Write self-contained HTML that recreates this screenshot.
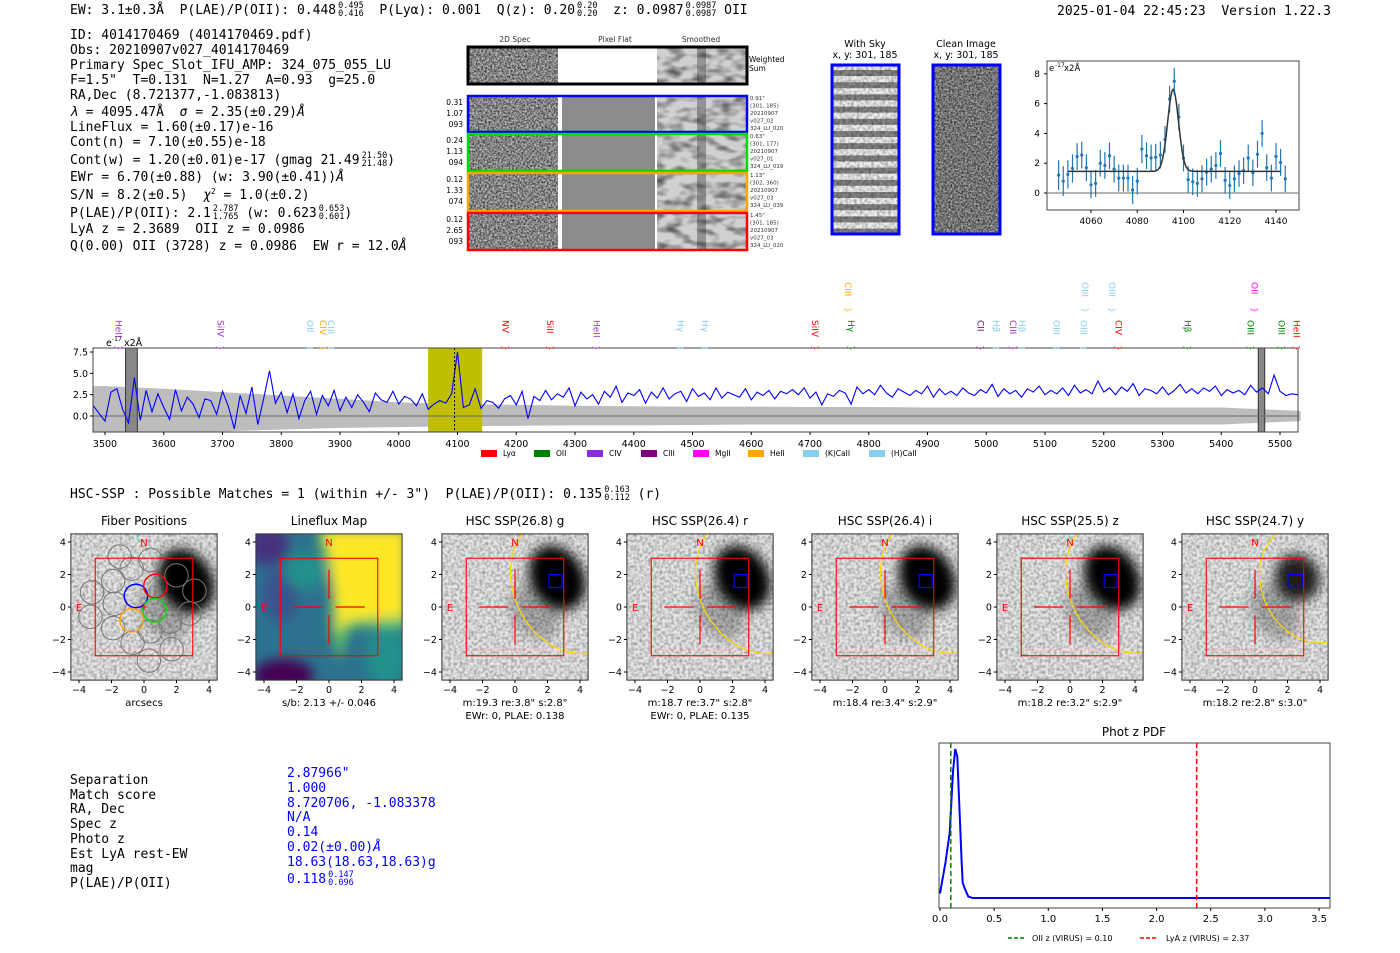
<!DOCTYPE html>
<html><head><meta charset="utf-8">
<style>
html,body{margin:0;padding:0;background:#fff;}
#root{position:relative;width:1400px;height:953px;overflow:hidden;background:#fff;}
.m{position:absolute;font-family:"DejaVu Sans Mono","Liberation Mono",monospace;font-size:13px;white-space:pre;color:#000;line-height:15px;}
.fr{display:inline-block;font-size:8.5px;line-height:8px;vertical-align:-2px;margin-left:2px;}
.fr span{display:block;}
.b{color:#0000ff;}
svg{position:absolute;left:0;top:0;}
</style></head>
<body>
<div id="root">
<svg id="sv" width="1400" height="953" viewBox="0 0 1400 953">
<defs>
<filter id="noise" x="0" y="0" width="100%" height="100%"><feTurbulence type="fractalNoise" baseFrequency="0.55" numOctaves="2" seed="3"/><feColorMatrix type="matrix" values="0 0 0 0 0  0 0 0 0 0  0 0 0 0 0  0 0 0 -1.3 1.0"/></filter>
<filter id="noiseL" x="0" y="0" width="100%" height="100%"><feTurbulence type="fractalNoise" baseFrequency="0.35" numOctaves="1" seed="7"/><feColorMatrix type="matrix" values="0 0 0 0 0  0 0 0 0 0  0 0 0 0 0  0 0 0 -0.7 0.45"/></filter>
<filter id="smooth" x="0" y="0" width="100%" height="100%"><feTurbulence type="fractalNoise" baseFrequency="0.06 0.12" numOctaves="2" seed="5"/><feColorMatrix type="matrix" values="0 0 0 0 0  0 0 0 0 0  0 0 0 0 0  0 0 0 -1.3 0.75"/></filter>
<filter id="blur6"><feGaussianBlur stdDeviation="6"/></filter>
<filter id="blur4"><feGaussianBlur stdDeviation="4"/></filter>
</defs>
</svg>

<div class="m" style="left:70px;top:2px">EW: 3.1±0.3Å  P(LAE)/P(OII): 0.448<span class="fr"><span>0.495</span><span>0.416</span></span>  P(Lyα): 0.001  Q(z): 0.20<span class="fr"><span>0.20</span><span>0.20</span></span>  z: 0.0987<span class="fr"><span>0.0987</span><span>0.0987</span></span> OII</div>
<div class="m" style="left:1057px;top:4px">2025-01-04 22:45:23  Version 1.22.3</div>

<div class="m" style="left:70px;top:28px">ID: 4014170469 (4014170469.pdf)</div>
<div class="m" style="left:70px;top:43px">Obs: 20210907v027_4014170469</div>
<div class="m" style="left:70px;top:58px">Primary Spec_Slot_IFU_AMP: 324_075_055_LU</div>
<div class="m" style="left:70px;top:73px">F=1.5"  T=0.131  N=1.27  A=0.93  g=25.0</div>
<div class="m" style="left:70px;top:88px">RA,Dec (8.721377,-1.083813)</div>
<div class="m" style="left:70px;top:105px"><i>λ</i> = 4095.47Å  <i>σ</i> = 2.35(±0.29)<i>Å</i></div>
<div class="m" style="left:70px;top:120px">LineFlux = 1.60(±0.17)e-16</div>
<div class="m" style="left:70px;top:135px">Cont(n) = 7.10(±0.55)e-18</div>
<div class="m" style="left:70px;top:152px;height:16px">Cont(w) = 1.20(±0.01)e-17 (gmag 21.49<span class="fr"><span>21.50</span><span>21.48</span></span>)</div>
<div class="m" style="left:70px;top:170px">EWr = 6.70(±0.88) (w: 3.90(±0.41))<i>Å</i></div>
<div class="m" style="left:70px;top:188px">S/N = 8.2(±0.5)  <i>χ</i><span style="font-size:8px;vertical-align:5px;line-height:8px">2</span> = 1.0(±0.2)</div>
<div class="m" style="left:70px;top:205px">P(LAE)/P(OII): 2.1<span class="fr"><span>2.787</span><span>1.765</span></span> (w: 0.623<span class="fr"><span>0.653</span><span>0.601</span></span>)</div>
<div class="m" style="left:70px;top:222px">LyA z = 2.3689  OII z = 0.0986</div>
<div class="m" style="left:70px;top:239px">Q(0.00) OII (3728) z = 0.0986  EW r = 12.0<i>Å</i></div>

<div class="m" style="left:70px;top:486px">HSC-SSP : Possible Matches = 1 (within +/- 3")  P(LAE)/P(OII): 0.135<span class="fr"><span>0.163</span><span>0.112</span></span> (r)</div>

<div class="m" style="left:70px;top:774px;line-height:14.7px">Separation
Match score
RA, Dec
Spec z
Photo z
Est LyA rest-EW
mag
P(LAE)/P(OII)</div>
<div class="m b" style="left:287px;top:767px;line-height:14.8px">2.87966"
1.000
8.720706, -1.083378
N/A
0.14
0.02(±0.00)<i>Å</i>
18.63(18.63,18.63)g
0.118<span class="fr"><span>0.147</span><span>0.096</span></span></div>
</div>

<script>
// ---------------- data ----------------
const specWaveStart = 3480;
const specWaveStep = 10;
const specFlux = [1.2,0.3,-0.6,2.8,3.2,0.8,-0.8,4.5,-0.5,3.0,
0.5,2.6,1.0,-0.4,3.1,0.6,2.2,1.4,-0.2,2.0,
1.8,0.2,2.9,1.1,-1.5,2.4,0.3,3.4,-1.0,2.0,
5.3,1.5,2.8,0.4,2.6,-0.3,1.8,2.9,0.2,2.4,
1.2,3.0,0.6,2.2,1.0,2.5,1.6,0.5,2.7,1.9,
1.6,2.9,1.4,2.3,2.0,1.2,2.6,0.8,1.4,1.8,
1.5,2.6,7.5,1.0,1.3,3.2,0.9,1.8,1.6,0.9,
2.0,2.4,1.3,2.9,-0.3,2.3,1.8,3.0,1.9,2.6,
2.2,3.3,1.2,2.8,2.0,2.5,1.4,2.9,2.2,3.5,
1.6,2.7,2.4,3.1,1.5,2.8,2.1,3.3,2.0,2.6,
2.9,1.7,3.2,2.3,2.7,1.9,3.3,2.1,2.8,2.5,
2.2,3.2,1.9,2.8,2.4,3.0,2.0,2.9,2.6,3.1,
2.5,3.3,2.1,2.8,1.3,2.6,2.3,3.0,2.7,1.4,
3.4,2.6,3.1,2.5,3.6,2.7,2.2,3.2,2.8,2.4,
3.0,2.6,3.5,2.2,3.2,2.5,2.9,2.4,3.3,2.7,
2.4,3.1,2.7,3.7,2.3,3.2,2.6,3.0,2.2,3.2,
2.8,3.5,2.5,3.0,2.6,3.3,2.4,3.6,2.7,3.1,
2.6,4.1,2.8,3.3,2.5,3.4,2.9,3.8,2.4,3.2,
3.0,2.6,3.4,2.5,3.0,3.7,2.7,3.2,2.6,3.3,
2.9,3.5,2.4,3.1,2.7,3.0,2.5,3.6,2.8,3.3,
2.6,4.8,2.9,2.4,2.6,2.5];
const errWave = [3500,3600,3700,3800,3900,4000,4100,4200,4300,4400,4500,4600,4700,4800,4900,5000,5100,5200,5300,5400,5535];
const errHi = [3.5,3.2,2.8,2.4,2.0,1.6,1.4,1.3,1.2,1.15,1.1,1.1,1.05,1.05,1.0,1.0,1.0,1.0,1.0,1.0,0.6];
const errLo = [-1.9,-1.9,-1.8,-1.6,-1.4,-1.3,-1.2,-1.15,-1.1,-1.1,-1.05,-1.0,-1.0,-1.0,-1.0,-1.0,-1.0,-1.0,-1.0,-1.0,-0.6];
const specTicks = [3500,3600,3700,3800,3900,4000,4100,4200,4300,4400,4500,4600,4700,4800,4900,5000,5100,5200,5300,5400,5500];
const specYTicks = [0.0,2.5,5.0,7.5];
const lineWave = [3522,3696,3848,3870,3884,4181,4257,4336,4479,4520,4708,4764,4769,4989,5016,5045,5060,5119,5165,5167,5213,5224,5342,5449,5456,5502,5527];
const lineName = ["HeII","SiIV","OII","CIV","CIII","NV","SiII","HeII","Hγ","Hγ","SiIV","CIII","Hγ","CII","Hβ","CIII","Hβ","OIII","OIII","OIII","OIII","CIV","Hβ","OIII","OII","OIII","HeII"];
const lineColor = ["#a030d0","#a030d0","#87ceeb","#ffa500","#87ceeb","#ff0000","#ff0000","#a030d0","#87ceeb","#87ceeb","#ff0000","#ffa500","#008000","#800080","#87ceeb","#a030d0","#87ceeb","#87ceeb","#87ceeb","#87ceeb","#87ceeb","#ff0000","#008000","#008000","#ff00ff","#008000","#ff0000"];
const lineUpper = [0,0,0,0,0,0,0,0,0,0,0,1,0,0,0,0,0,0,0,1,1,0,0,0,1,0,0];
const legendNames = ["Lyα","OII","CIV","CIII","MgII","HeII","(K)CaII","(H)CaII"];
const legendColors = ["#ff0000","#008000","#8a2be2","#800080","#ff00ff","#ffa500","#87ceeb","#87ceeb"];

const zoomWave = [4046,4048,4050,4052,4054,4056,4058,4060,4062,4064,4066,4068,4070,4072,4074,4076,4078,4080,4082,4084,4086,4088,4090,4092,4094,4096,4098,4100,4102,4104,4106,4108,4110,4112,4114,4116,4118,4120,4122,4124,4126,4128,4130,4132,4134,4136,4138,4140,4142,4144];
const zoomFlux = [1.2,0.8,1.25,1.65,2.45,2.55,1.7,0.55,0.65,2.0,1.85,2.5,1.6,1.0,1.0,1.0,0.2,0.8,2.95,2.5,2.35,2.4,2.55,3.6,6.3,7.5,5.1,2.35,0.9,0.75,0.65,0.95,1.4,1.6,1.85,2.65,0.85,0.5,0.95,1.3,1.5,2.35,1.35,2.6,4.0,1.7,1.0,2.45,2.05,0.95];
const zoomErr = [1.0,1.0,0.95,0.95,0.9,0.9,0.9,0.9,0.9,0.9,0.9,0.9,0.9,0.9,0.9,0.9,0.95,0.9,0.95,0.9,0.9,0.9,0.9,0.9,0.9,0.9,0.9,0.9,0.9,0.9,0.9,0.9,0.9,0.9,0.9,0.9,0.9,0.9,0.9,0.9,0.9,0.9,0.9,0.9,0.9,0.9,0.9,0.9,0.9,0.9];
const fitBase = 1.45, fitAmp = 5.5, fitCenter = 4095.5, fitSigma = 2.35;
const zoomXTicks = [4060,4080,4100,4120,4140];
const zoomYTicks = [0,2,4,6,8];

const pdfZ = [0,0.05,0.09,0.12,0.14,0.16,0.18,0.2,0.21,0.23,0.26,0.3,3.6];
const pdfP = [0.05,0.25,0.45,0.85,1.0,0.95,0.6,0.25,0.12,0.08,0.03,0.02,0.02];
const pdfTicks = [0.0,0.5,1.0,1.5,2.0,2.5,3.0,3.5];
const oiiZ = 0.10, lyaZ = 2.37;

const fiberX = [-1.5,-1.9,-3.2,-1.8,-3.3,-1.9,-0.7,0.4,1.6,1.7,0.3,-0.76,0.4,2.0,3.1,2.8,-0.5,0.7,0.65,-0.76];
const fiberY = [3.1,1.6,0.9,0.2,-0.6,-1.3,-2.2,-1.5,-0.9,-2.6,-3.3,2.36,2.9,1.95,1.0,-0.4,0.68,1.29,-0.2,-0.82];
const fiberColor = ["#777","#777","#777","#777","#777","#777","#777","#777","#777","#777","#777","#777","#777","#777","#777","#777","#0000ff","#ff0000","#00dd00","#ffa500"];

const panelTitles = ["Fiber Positions","Lineflux Map","HSC SSP(26.8) g","HSC SSP(26.4) r","HSC SSP(26.4) i","HSC SSP(25.5) z","HSC SSP(24.7) y"];
const panelFoot1 = ["arcsecs","s/b: 2.13 +/- 0.046","m:19.3  re:3.8\"  s:2.8\"","m:18.7  re:3.7\"  s:2.8\"","m:18.4  re:3.4\"  s:2.9\"","m:18.2  re:3.2\"  s:2.9\"","m:18.2  re:2.8\"  s:3.0\""];
const panelFoot2 = ["","","EWr: 0, PLAE: 0.138","EWr: 0, PLAE: 0.135","","",""];
const panelCx = [144,329,515,700,885,1070,1255];
const imgTicks = [-4,-2,0,2,4];

// ---------------- helpers ----------------
const NS = "http://www.w3.org/2000/svg";
const sv = document.getElementById("sv");
function E(tag, at, parent){ const e=document.createElementNS(NS,tag); for(const k in at) e.setAttribute(k,at[k]); (parent||sv).appendChild(e); return e; }
function T(x,y,s,at,parent){ const e=E("text",Object.assign({x:x,y:y,"font-family":"DejaVu Sans, Liberation Sans, sans-serif","font-size":10},at||{}),parent); e.textContent=s; return e; }

// ---------------- 2D spec cutouts ----------------
(function(){
  const g=E("g",{});
  
  
  T(515,42,"2D Spec",{"font-size":7.5,"text-anchor":"middle",fill:"#333"},g);
  T(615,42,"Pixel Flat",{"font-size":7.5,"text-anchor":"middle",fill:"#333"},g);
  T(701,42,"Smoothed",{"font-size":7.5,"text-anchor":"middle",fill:"#333"},g);
  const rows=[[46,85,"#000"],[95,133,"#0000ff"],[133,172,"#00dd00"],[172,212,"#ffa500"],[212,251,"#ff0000"]];
  const left=[["",""],["0.31","1.07","093"],["0.24","1.13","094"],["0.12","1.33","074"],["0.12","2.65","093"]];
  const right=[[],["0.91\"","(301, 185)","20210907","v027_02","324_LU_020"],["0.63\"","(301, 177)","20210907","v027_01","324_LU_019"],["1.13\"","(302, 360)","20210907","v027_03","324_LU_039"],["1.45\"","(301, 185)","20210907","v027_03","324_LU_020"]];
  rows.forEach((r,i)=>{
    const y=r[0],h=r[1]-r[0];
    E("rect",{x:469,y:y,width:89,height:h,fill:"#c8c8c8"},g);
    E("rect",{x:469,y:y,width:89,height:h,filter:"url(#noise)"},g);
    E("rect",{x:562,y:y,width:93,height:h,fill:i==0?"#fff":"#8c8c8c"},g);
    E("rect",{x:657,y:y,width:90,height:h,fill:"#d0d0d0"},g);
    E("rect",{x:657,y:y,width:90,height:h,filter:"url(#smooth)"},g);
    E("rect",{x:697,y:y,width:9,height:h,fill:"#222",opacity:0.35},g);
    E("rect",{x:468,y:y+1,width:279,height:h-2,fill:"none",stroke:r[2],"stroke-width":i==0?3:2.5},g);
    if(i>0) left[i].forEach((s,k)=>T(463,y+10+k*11,s,{"font-size":7.5,"text-anchor":"end"},g));
    right[i].forEach((s,k)=>T(750,y+5+k*7.5,s,{"font-size":5.5,fill:"#333"},g));
  });
  T(749,62,"Weighted",{"font-size":7.5},g); T(749,71,"Sum",{"font-size":7.5},g);
})();

// ---------------- sky images ----------------
(function(){
  const g=E("g",{});
  
  
  T(865,47,"With Sky",{"font-size":9.5,"text-anchor":"middle"},g);
  T(865,58,"x, y: 301, 185",{"font-size":9.5,"text-anchor":"middle"},g);
  T(966,47,"Clean Image",{"font-size":9.5,"text-anchor":"middle"},g);
  T(966,58,"x, y: 301, 185",{"font-size":9.5,"text-anchor":"middle"},g);
  E("rect",{x:832,y:65,width:67,height:169,fill:"#eee"},g);
  for(let k=0;k<14;k++){ E("rect",{x:832,y:70+k*12.2,width:67,height:6,fill:"#555",opacity:0.7},g); }
  E("rect",{x:832,y:65,width:67,height:169,filter:"url(#noiseL)"},g);
  E("rect",{x:832,y:65,width:67,height:169,fill:"none",stroke:"#0000ff","stroke-width":3},g);
  E("rect",{x:933,y:65,width:67,height:169,fill:"#b0b0b0"},g);
  E("rect",{x:933,y:65,width:67,height:169,filter:"url(#noise)"},g);
  E("rect",{x:933,y:65,width:67,height:169,fill:"none",stroke:"#0000ff","stroke-width":3},g);
})();

// ---------------- zoom spectrum ----------------
(function(){
  const g=E("g",{});
  
  
  const X=w=>1091+(w-4060)*2.3125, Y=v=>193-v*14.9;
  E("rect",{x:1047,y:61,width:252,height:149,fill:"#fff",stroke:"#444","stroke-width":1},g);
  E("line",{x1:1047,x2:1299,y1:Y(0),y2:Y(0),stroke:"#888","stroke-width":1.2},g);
  zoomXTicks.forEach(t=>{E("line",{x1:X(t),x2:X(t),y1:210,y2:213,stroke:"#000"},g);T(X(t),224,String(t),{"font-size":9,"text-anchor":"middle"},g);});
  zoomYTicks.forEach(t=>{E("line",{x1:1044,x2:1047,y1:Y(t),y2:Y(t),stroke:"#000"},g);T(1040,Y(t)+3,String(t),{"font-size":9,"text-anchor":"end"},g);});
  zoomWave.forEach((w,i)=>{
    const eb=E("line",{x1:X(w),x2:X(w),y1:Y(zoomFlux[i]+zoomErr[i]),y2:Y(zoomFlux[i]-zoomErr[i]),stroke:"#1f77b4","stroke-width":1.2},g);
    
    const p=E("circle",{cx:X(w),cy:Y(zoomFlux[i]),r:1.6,fill:"#1f77b4"},g);
    
  });
  let d="";
  for(let w=4050;w<=4142;w+=0.5){ const v=fitBase+fitAmp*Math.exp(-0.5*Math.pow((w-fitCenter)/fitSigma,2)); d+=(d?"L":"M")+X(w).toFixed(1)+","+Y(v).toFixed(1); }
  const fp=E("path",{d:d,fill:"none",stroke:"#333","stroke-width":1.5},g);
  
  T(1049,71,"e",{"font-size":8.5},g);
  T(1055,67,"-17",{"font-size":6},g); T(1064,71,"x2Å",{"font-size":8.5},g);
})();

// ---------------- full spectrum ----------------
(function(){
  const g=E("g",{});
  
  
  const X=w=>105+(w-3500)*0.5875, Y=v=>416-v*8.53;
  E("rect",{x:93,y:348,width:1205,height:84,fill:"#fff"},g);
  let d="M"+X(3480)+","+Y(errHi[0]);
  errWave.forEach((w,i)=>d+="L"+X(w).toFixed(1)+","+Y(errHi[i]).toFixed(1));
  for(let i=errWave.length-1;i>=0;i--) d+="L"+X(errWave[i]).toFixed(1)+","+Y(errLo[i]).toFixed(1);
  d+="L"+X(3480)+","+Y(errLo[0])+"Z";
  const band=E("path",{d:d,fill:"#bdbdbd"},g);
  
  const yb=E("rect",{x:X(4050),y:348,width:X(4142)-X(4050),height:84,fill:"#bfbf00"},g);
  
  E("rect",{x:X(3535),y:348,width:X(3555)-X(3535),height:84,fill:"#888",stroke:"#333"},g);
  E("rect",{x:X(5463),y:348,width:X(5474)-X(5463),height:84,fill:"#888",stroke:"#333"},g);
  E("line",{x1:93,x2:1298,y1:Y(0),y2:Y(0),stroke:"#777","stroke-width":1.2},g);
  let p="";
  specFlux.forEach((v,i)=>{const w=specWaveStart+i*specWaveStep; p+=(p?"L":"M")+X(w).toFixed(1)+","+Math.min(432,Math.max(348,Y(v))).toFixed(1);});
  const fl=E("path",{d:p,fill:"none",stroke:"#0000ff","stroke-width":1.1},g);
  
  E("line",{x1:X(4095),x2:X(4095),y1:348,y2:432,stroke:"#000","stroke-dasharray":"2,2","stroke-width":1},g);
  E("rect",{x:93,y:348,width:1205,height:84,fill:"none",stroke:"#444","stroke-width":1},g);
  specTicks.forEach(t=>{E("line",{x1:X(t),x2:X(t),y1:432,y2:435,stroke:"#000"},g);T(X(t),447,String(t),{"font-size":9.5,"text-anchor":"middle"},g);});
  specYTicks.forEach(t=>{E("line",{x1:90,x2:93,y1:Y(t),y2:Y(t),stroke:"#000"},g);T(88,Y(t)+3.5,t.toFixed(1),{"font-size":9.5,"text-anchor":"end"},g);});
  T(106,346,"e",{"font-size":9.5,fill:"#000"},g); T(112,341,"-17",{"font-size":6},g); T(124,346,"x2Å",{"font-size":9.5},g);
  lineWave.forEach((w,i)=>{
    const x=X(w), y0=lineUpper[i]?282:320;
    const t=T(x,y0,lineName[i],{"font-size":9,fill:lineColor[i],transform:"rotate(90 "+x+" "+y0+")","dominant-baseline":"middle"},g);
    
    T(x,y0+28,"{",{"font-size":8,fill:lineColor[i],transform:"rotate(-90 "+x+" "+(y0+28)+")","text-anchor":"middle","dominant-baseline":"middle"},g);
  });
  const lx=[481,534,587,641,693,748,803,869];
  legendNames.forEach((n,i)=>{
    const r=E("rect",{x:lx[i],y:450,width:16,height:7,fill:legendColors[i]},g);
    
    T(lx[i]+22,456,n,{"font-size":7.5},g);
  });
})();

// ---------------- image panels ----------------
panelCx.forEach((cx,pi)=>{
  const g=E("g",{});
  
  
  const S=16.25, cy=607, X=v=>cx+v*S, Y=v=>cy-v*S;
  const x0=X(-4.5), y0=Y(4.5), W=9*S;
  const cp=E("clipPath",{id:"cp"+pi},g); E("rect",{x:x0,y:y0,width:W,height:W},cp);
  const ig=E("g",{"clip-path":"url(#cp"+pi+")"},g);
  if(pi==1){
    E("rect",{x:x0,y:y0,width:W,height:W,fill:"#2c728e"},ig);
    const bg=E("g",{filter:"url(#blur6)"},ig);
    E("ellipse",{cx:X(-3.8),cy:Y(3.8),rx:22,ry:20,fill:"#46327e"},bg);
    E("ellipse",{cx:X(-2.8),cy:Y(-4.2),rx:30,ry:16,fill:"#440154"},bg);
    E("ellipse",{cx:X(-3),cy:Y(0.8),rx:18,ry:28,fill:"#3b528b"},bg);
    E("ellipse",{cx:X(-1.5),cy:Y(2.2),rx:20,ry:18,fill:"#21918c"},bg);
    E("ellipse",{cx:X(3.5),cy:Y(-3),rx:20,ry:30,fill:"#21918c"},bg);
    E("polygon",{points:[[-0.8,4.8],[4.8,4.8],[4.8,-1.3],[2.5,-1.2],[1.2,-1.3],[0.8,-2.8],[0.6,-3.4],[0.1,-1.2],[0.2,0.5],[-0.1,2.5]].map(p=>X(p[0])+","+Y(p[1])).join(" "),fill:"#5ec962"},bg);
    E("polygon",{points:[[-0.4,4.8],[4.8,4.8],[4.8,-0.6],[2.5,-0.7],[1.2,-0.8],[0.6,-1.6],[0.35,0.3],[0.1,2.6]].map(p=>X(p[0])+","+Y(p[1])).join(" "),fill:"#fde725"},bg);
  } else {
    E("rect",{x:x0,y:y0,width:W,height:W,fill:"#e6e6e6"},ig);
    E("rect",{x:x0,y:y0,width:W,height:W,filter:"url(#noiseL)"},ig);
    const bg=E("g",{filter:"url(#blur6)"},ig);
    const dark = pi==6 ? 0.85 : 1;
    const bcx = 2.6, bcy = pi==0?1.6:1.8;
    E("ellipse",{cx:X(1.2),cy:Y(-0.3),rx:22,ry:30,fill:"#000",opacity:0.25,transform:"rotate(-35 "+X(1.2)+" "+Y(-0.3)+")"},bg);
    E("ellipse",{cx:X(bcx),cy:Y(bcy),rx:pi==6?22:26,ry:pi==6?24:34,fill:"#000",opacity:dark,transform:"rotate(-30 "+X(bcx)+" "+Y(bcy)+")"},bg);
    if(pi>=2){
      const ecx=X(3.4),ecy=Y(1.4);
      const sc = pi==6?0.85:1;
      E("ellipse",{cx:ecx,cy:ecy,rx:3.5*S*sc,ry:4.4*S*sc,fill:"none",stroke:"#ffd700","stroke-width":1.2,transform:"rotate(-25 "+ecx+" "+ecy+")"},ig);
    }
    if(pi==0){
      fiberX.forEach((fx,i)=>{
        const c=E("circle",{cx:X(fx),cy:Y(fiberY[i]),r:0.72*S,fill:"none",stroke:fiberColor[i],"stroke-width":fiberColor[i]=="#777"?1:1.4},ig);
        
      });
    }
  }
  E("rect",{x:X(-3),y:Y(3),width:6*S,height:6*S,fill:"none",stroke:"#ff0000","stroke-width":1.1},g);
  if(pi>=1){
    E("line",{x1:X(-2.2),x2:X(-0.4),y1:cy,y2:cy,stroke:"#ff0000","stroke-width":1.2},g);
    E("line",{x1:X(0.4),x2:X(2.2),y1:cy,y2:cy,stroke:"#ff0000","stroke-width":1.2},g);
    E("line",{x1:cx,x2:cx,y1:Y(2.3),y2:Y(0.5),stroke:"#ff0000","stroke-width":1.2},g);
    E("line",{x1:cx,x2:cx,y1:Y(-0.5),y2:Y(-2.3),stroke:"#ff0000","stroke-width":1.2},g);
  } else {
    E("line",{x1:X(-0.2),x2:X(0.2),y1:cy,y2:cy,stroke:"#ff0000"},g);
    E("line",{x1:cx,x2:cx,y1:Y(0.2),y2:Y(-0.2),stroke:"#ff0000"},g);
  }
  if(pi>=2){ E("rect",{x:X(2.1),y:Y(2),width:0.8*S,height:0.8*S,fill:"none",stroke:"#0000ff","stroke-width":1.2},g); }
  T(cx,Y(4)+4,"N",{"font-size":10,fill:"#ff0000","text-anchor":"middle"},g);
  T(X(-4),cy+4,"E",{"font-size":10,fill:"#ff0000","text-anchor":"middle"},g);
  E("rect",{x:x0,y:y0,width:W,height:W,fill:"none",stroke:"#333","stroke-width":1},g);
  imgTicks.forEach(t=>{
    E("line",{x1:X(t),x2:X(t),y1:y0+W,y2:y0+W+3,stroke:"#000"},g);
    T(X(t),y0+W+13,(t<0?"−":"")+Math.abs(t),{"font-size":9.5,"text-anchor":"middle"},g);
    E("line",{x1:x0-3,x2:x0,y1:Y(t),y2:Y(t),stroke:"#000"},g);
    T(x0-5,Y(t)+3.5,(t<0?"−":"")+Math.abs(t),{"font-size":9.5,"text-anchor":"end"},g);
  });
  const tt=T(cx,525,panelTitles[pi],{"font-size":12,"text-anchor":"middle"},g);
  
  T(cx,706,panelFoot1[pi],{"font-size":10,"text-anchor":"middle"},g);
  if(panelFoot2[pi]) T(cx,719,panelFoot2[pi],{"font-size":10,"text-anchor":"middle"},g);
});

// ---------------- phot z pdf ----------------
(function(){
  const g=E("g",{});
  
  
  const X=z=>940+z*108.3, Y=p=>901-p*152;
  T(1134,736,"Phot z PDF",{"font-size":12,"text-anchor":"middle"},g);
  E("rect",{x:939,y:743,width:391,height:165,fill:"#fff",stroke:"#444"},g);
  pdfTicks.forEach(t=>{E("line",{x1:X(t),x2:X(t),y1:908,y2:911,stroke:"#000"},g);T(X(t),922,t.toFixed(1),{"font-size":10,"text-anchor":"middle"},g);});
  let d=""; pdfZ.forEach((z,i)=>d+=(d?"L":"M")+X(Math.min(z,3.6)).toFixed(1)+","+Y(pdfP[i]).toFixed(1));
  const c=E("path",{d:d,fill:"none",stroke:"#0000ff","stroke-width":2},g);
  
  const o=E("line",{x1:X(oiiZ),x2:X(oiiZ),y1:743,y2:908,stroke:"#008000","stroke-width":1.5,"stroke-dasharray":"5,3"},g);
  
  const l=E("line",{x1:X(lyaZ),x2:X(lyaZ),y1:743,y2:908,stroke:"#ff0000","stroke-width":1.5,"stroke-dasharray":"5,3"},g);
  
  E("line",{x1:1008,x2:1026,y1:938,y2:938,stroke:"#008000","stroke-width":1.5,"stroke-dasharray":"4,2"},g);
  T(1032,941,"OII z (VIRUS) = 0.10",{"font-size":8},g);
  E("line",{x1:1140,x2:1158,y1:938,y2:938,stroke:"#ff0000","stroke-width":1.5,"stroke-dasharray":"4,2"},g);
  T(1166,941,"LyA z (VIRUS) = 2.37",{"font-size":8},g);
})();
</script>
</body></html>
